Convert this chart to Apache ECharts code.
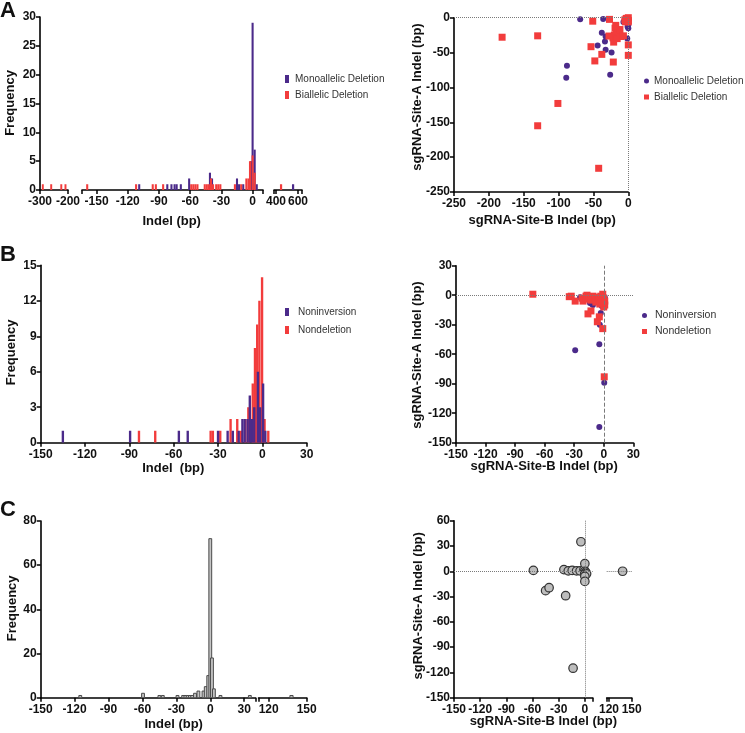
<!DOCTYPE html>
<html><head><meta charset="utf-8">
<script src="https://cdn.jsdelivr.net/npm/echarts@6/dist/echarts.min.js"></script>
<style>html,body{margin:0;padding:0;background:#fff}#c{width:745px;height:733px}</style>
</head><body><div id="c"></div>
<script>
// ================= DATA =================
// Panel A histogram: [bin centre (bp), frequency]
const histA_mono = [[-109,1],[-82,1],[-78,1],[-75,1],[-73,1],[-69,1],[-61,2],[-41,3],[-39,2],[-15,2],[-13,1],[-9,1],[-1.5,5],[0,29],[2,7],[4,1],[555,1]];
const histA_bi = [[-290,1],[-260,1],[-224,1],[-209,1],[-159,1],[-112,1],[-96,1],[-93,1],[-86,1],[-59,1],[-57,1],[-55,1],[-53,1],[-46,1],[-44,1],[-42,1],[-40,2],[-38,1],[-35,1],[-33,1],[-31,1],[-17,1],[-11,1],[-6,2],[-4,2],[-2.5,5],[0,6],[2,3],[446,1]];
// Panel A scatter: [site-B indel, site-A indel]
const scatA_mono = [[-69,-2.4],[-36,-2],[-38,-21.5],[-32.5,-27],[-33.5,-34],[-44,-40],[-32.5,-46],[-24,-50],[-26,-82],[-88,-69],[-89,-86],[-7,-6],[-5,-3],[-1,-13],[0,-15],[-1.5,-30],[0,-10]];
const scatA_bi = [[-51,-5],[-27,-2.4],[-181,-28],[-130,-26],[-53.5,-41.6],[-48,-62],[-38,-52.6],[-21.5,-63.6],[-21,-35],[-19,-15],[-17,-19],[-15,-22],[-13,-26],[-20,-25],[-22,-29],[-16,-30],[-11,-27],[-12,-17],[-18,-11],[-27.7,-26.3],[-7,-26],[-101,-123],[-130,-155],[-42.5,-216],[0,-39],[0,-54],[-3,-1],[-1,-2],[0,0],[-5,-3],[-2,-5],[0,-4],[-4,-6],[0,-6]];
// Panel B histogram
const histB_noninv = [[-135,1],[-89.5,1],[-56.5,1],[-50.5,1],[-30,1],[-23.5,1],[-20,1],[-16,1],[-13.5,2],[-12,2],[-10,2],[-8.5,4],[-7,2],[-5.5,3],[-3,6],[-1.5,3],[0.5,5],[2,1]];
const histB_nondel = [[-83.5,1],[-72.5,1],[-35,1],[-33.5,1],[-28.5,1],[-21.5,2],[-17,2],[-14.5,1],[-11.5,2],[-9.5,3],[-6.5,5],[-5,8],[-3.5,10],[-2,12],[-0.2,14],[1.5,2],[4,1]];
// Panel B scatter
const scatB_noninv = [[-29,-56],[-4.5,-50],[-4.5,-134],[0.5,-89],[-4,-30],[-3,-18],[-24,-2],[-14,-8],[-11,-10],[-9,-7],[-12,-9],[0,-5],[1,-2],[-6,-4],[-2,-11]];
const scatB_nondel = [[-72,1],[-35,-1.5],[-33,-1],[-29,-6],[-22,-3],[-21,-6],[-18,-1],[-17,0],[-16,-4],[-15,-2],[-13,-5],[-11,-1],[-9,-3],[-8,-7],[-6,-2],[-5,-5],[-4,-9],[-3,-1],[-2,-4],[-1,1],[0,-3],[1,-6],[1,-10],[0,-12],[-1,-8],[-16,-19],[-13,-16],[-6.5,-27],[-4.5,-22],[-1,-34],[0.5,-83]];
// Panel C histogram and scatter
const histC = [[-115,1],[-59.5,2],[-45,1],[-42,1],[-29,1],[-24,1],[-22,1],[-20,1],[-18,1],[-16,1],[-13.5,2],[-10.5,3],[-6,3],[-4,5],[-1.8,10],[0,72],[1.5,18],[3.2,4],[9,1],[35,1],[138,1]];
const scatC = [[-59,1],[-24,2],[-19,0.5],[-14.5,1],[-9.5,0.5],[-5.5,0.5],[-4.5,35],[-1,2],[0,9],[0,0],[1,-1],[0,-3],[2,-3],[0,-6],[0,-12],[-45,-23],[-41,-19.5],[-22,-29],[-13.5,-115],[138,0]];
// Tick labels
const labelsA_histX = [[-300,-200],[-150,-120,-90,-60,-30,0],[400,600]];
const labelsA_scat = [-250,-200,-150,-100,-50,0];
const labelsB = [-150,-120,-90,-60,-30,0,30];
const labelsC_histX = [[-150,-120,-90,-60,-30,0,30],[120,150]];
const labelsC_scatX = [[-150,-120,-90,-60,-30,0],[120,150]];

// ================= STYLE / LAYOUT =================
const PURPLE = '#4B2A8A', RED = '#F23C3C';
const FONT = 'Arial, "Liberation Sans", Helvetica, sans-serif';

function xAx(gi, min, max, ticks, labels) {
  return { type:'value', gridIndex:gi, min, max,
    axisLine:{show:true, onZero:false, lineStyle:{color:'#000', width:1.6}},
    axisTick:{show:true, length:4, lineStyle:{color:'#000', width:1.5}, customValues:ticks},
    axisLabel:{show:true, customValues:labels, margin:6, hideOverlap:false, fontSize:12, fontWeight:'bold', color:'#111', fontFamily:FONT},
    splitLine:{show:false} };
}
function yAx(gi, min, max, interval, show) {
  return { type:'value', gridIndex:gi, min, max, interval, show: show !== false,
    axisLine:{show:true, onZero:false, lineStyle:{color:'#000', width:1.6}},
    axisTick:{show:true, length:4, lineStyle:{color:'#000', width:1.5}},
    axisLabel:{show:true, margin:4, fontSize:12, fontWeight:'bold', color:'#111', fontFamily:FONT},
    splitLine:{show:false} };
}
function inRange(d, min, max){ return d.filter(p => p[0] >= min && p[0] <= max); }
function histSeries(name, data, gi, w, fill, stroke) {
  return { type:'custom', name, xAxisIndex:gi, yAxisIndex:gi, data, clip:true,
    encode:{x:0, y:1}, itemStyle:{color:fill},
    renderItem:function(params, api){
      const c = api.value(0), v = api.value(1);
      const p0 = api.coord([c - w/2, v]), p1 = api.coord([c + w/2, 0]);
      return {type:'rect', shape:{x:p0[0], y:p0[1], width:p1[0]-p0[0], height:p1[1]-p0[1]},
        style:{fill:fill, stroke:stroke || null, lineWidth: stroke ? 1 : 0}};
    }};
}
function scat(name, data, gi, symbol, size, color, extra) {
  return Object.assign({ type:'scatter', name, xAxisIndex:gi, yAxisIndex:gi, data, symbol, symbolSize:size,
    clip:false, itemStyle:{color, opacity:1} }, extra || {});
}
function refLines(items) {
  return { silent:true, symbol:'none', label:{show:false}, animation:false,
    lineStyle:{color:'#7a7a7a', width:1, type:'dotted'}, data:items };
}

// segments
const segA = [
  {min:-300, max:-200, left:40,  width:28,  ticks:[-300,-200], w:7},
  {min:-164, max:10,   left:82,  width:181, ticks:[-164,-150,-120,-90,-60,-30,0,10], w:2},
  {min:382,  max:636,  left:274, width:28,  ticks:[382,400,600,636], w:20}
];
const segC = [
  {min:-150, max:40,  left:40.7,  width:214.8, ticks:[-150,-120,-90,-60,-30,0,30,40], w:2.5},
  {min:112,  max:150, left:258.5, width:48.2,  ticks:[112,120,150], w:2.5}
];
const segCs = [
  {min:-150, max:9,   left:454,   width:138.7, ticks:[-150,-120,-90,-60,-30,0,9]},
  {min:117,  max:150, left:606.7, width:25,    ticks:[117,120,150]}
];

const grid = [], xAxis = [], yAxis = [], series = [];
// A hist (grids 0..2)
segA.forEach((s, i) => {
  grid.push({left:s.left, top:17, width:s.width, height:173});
  xAxis.push(xAx(i, s.min, s.max, s.ticks, labelsA_histX[i]));
  yAxis.push(yAx(i, 0, 30, 5, i === 0));
  series.push(histSeries('Monoallelic Deletion', inRange(histA_mono, s.min, s.max), i, s.w, PURPLE));
  series.push(histSeries('Biallelic Deletion', inRange(histA_bi, s.min, s.max), i, s.w, RED));
});
// A scatter (grid 3)
grid.push({left:454, top:17.7, width:174.3, height:174.3});
xAxis.push(xAx(3, -250, 0, labelsA_scat, labelsA_scat));
yAxis.push(yAx(3, -250, 0, 50));
series.push(scat('Monoallelic Deletion', scatA_mono, 3, 'circle', 6, PURPLE,
  {markLine: refLines([{yAxis:0},{xAxis:0}])}));
series.push(scat('Biallelic Deletion', scatA_bi, 3, 'rect', 7, RED));
// B hist (grid 4)
grid.push({left:40.7, top:265.3, width:266, height:177.4});
xAxis.push(xAx(4, -150, 30, labelsB, labelsB));
yAxis.push(yAx(4, 0, 15, 3));
series.push(histSeries('Nondeletion', histB_nondel, 4, 1.6, RED));
series.push(histSeries('Noninversion', histB_noninv, 4, 1.6, PURPLE));
// B scatter (grid 5)
grid.push({left:456, top:265.7, width:177.3, height:177});
xAxis.push(xAx(5, -150, 30, labelsB, labelsB));
yAxis.push(yAx(5, -150, 30, 30));
series.push(scat('Noninversion', scatB_noninv, 5, 'circle', 6, PURPLE,
  {markLine: refLines([{yAxis:0},{xAxis:0, lineStyle:{type:'dashed', color:'#7a7a7a', width:1}}])}));
series.push(scat('Nondeletion', scatB_nondel, 5, 'rect', 7, RED));
// C hist (grids 6,7)
segC.forEach((s, i) => {
  const gi = 6 + i;
  grid.push({left:s.left, top:521, width:s.width, height:176.7});
  xAxis.push(xAx(gi, s.min, s.max, s.ticks, labelsC_histX[i]));
  yAxis.push(yAx(gi, 0, 80, 20, i === 0));
  series.push(histSeries('C', inRange(histC, s.min, s.max), gi, s.w, '#c4c4c4', '#4a4a4a'));
});
// C scatter (grids 8,9)
segCs.forEach((s, i) => {
  const gi = 8 + i;
  grid.push({left:s.left, top:520.7, width:s.width, height:177});
  xAxis.push(xAx(gi, s.min, s.max, s.ticks, labelsC_scatX[i]));
  yAxis.push(yAx(gi, -150, 60, 30, i === 0));
  series.push(scat('Cs', inRange(scatC, s.min, s.max), gi, 'circle', 8.5, '#bdbdbd',
    {itemStyle:{color:'#bdbdbd', borderColor:'#333', borderWidth:1.2, opacity:1},
     markLine: refLines(i === 0 ? [{yAxis:0},{xAxis:0}] : [{yAxis:0}])}));
});

function legend(left, top, names, icons, iw, ih, gap, pad, fs) {
  return { left, top, orient:'vertical', itemWidth:iw, itemHeight:ih, itemGap:gap, selectedMode:false,
    textStyle:{fontSize:fs, color:'#333', fontFamily:FONT, padding:[0,0,0,pad]},
    data: names.map((n, k) => ({name:n, icon:icons[k]})) };
}
const legends = [
  legend(280, 69, ['Monoallelic Deletion','Biallelic Deletion'], ['rect','rect'], 4, 8, 6, 1, 10),
  legend(639, 71, ['Monoallelic Deletion','Biallelic Deletion'], ['circle','rect'], 5, 5, 6, 0, 10),
  legend(280, 302, ['Noninversion','Nondeletion'], ['rect','rect'], 4, 8, 8, 4, 10),
  legend(637, 305, ['Noninversion','Nondeletion'], ['circle','rect'], 5, 5, 5, 3, 10.5)
];

function txt(s, x, y, size, rot) {
  return { type:'text', x, y, rotation: rot ? Math.PI/2 : 0, silent:true,
    style:{text:s, fill:'#111', font:'bold ' + size + 'px ' + FONT, align:'center', verticalAlign:'middle'} };
}
const graphic = [
  txt('A', 8, 10.5, 22), txt('B', 8, 255, 22), txt('C', 8, 510, 22),
  txt('Frequency', 10.8, 103, 13, true), txt('Indel (bp)', 171.7, 221.5, 13),
  txt('sgRNA-Site-A Indel (bp)', 417.5, 97, 13, true), txt('sgRNA-Site-B Indel (bp)', 542.2, 220, 13),
  txt('Frequency', 11.7, 352.5, 13, true), txt('Indel  (bp)', 173.3, 468.3, 13),
  txt('sgRNA-Site-A Indel (bp)', 417.5, 355, 13, true), txt('sgRNA-Site-B Indel (bp)', 544.2, 466, 13),
  txt('Frequency', 12, 608.3, 13, true), txt('Indel (bp)', 173.7, 724.2, 13),
  txt('sgRNA-Site-A Indel (bp)', 418.3, 605.8, 13, true), txt('sgRNA-Site-B Indel (bp)', 543.3, 721.7, 13)
];

const chart = echarts.init(document.getElementById('c'), null, {renderer:'canvas'});
chart.setOption({ animation:false, backgroundColor:'#fff', grid, xAxis, yAxis, series, legend:legends, graphic });
</script></body></html>
